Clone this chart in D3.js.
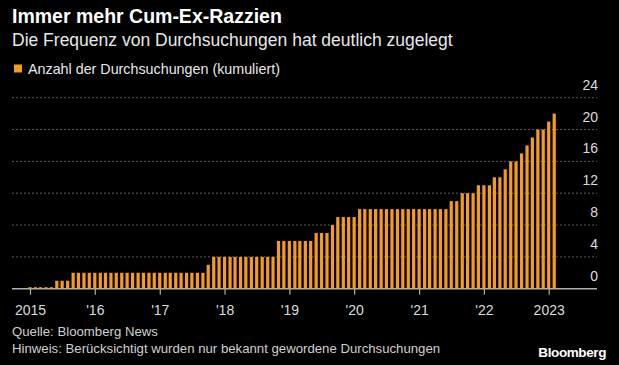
<!DOCTYPE html>
<html>
<head>
<meta charset="utf-8">
<script src="https://cdn.jsdelivr.net/npm/d3@7"></script>
<style>
  html, body { margin: 0; padding: 0; background: #000; }
  svg { display: block; font-family: "Liberation Sans", Arial, sans-serif; }
</style>
</head>
<body>
<svg id="chart" width="619" height="365"></svg>
<script>
// ---- Data ----
const title = "Immer mehr Cum-Ex-Razzien";
const subtitle = "Die Frequenz von Durchsuchungen hat deutlich zugelegt";
const seriesName = "Anzahl der Durchsuchungen (kumuliert)";
const startMonth = "2015-01";
const endMonth = "2023-02";
// cumulative number of searches, monthly Jan 2015 – Feb 2023
const values = [
  0, 0, 0, 0, 0, 1, 1, 1, 2, 2, 2, 2,        // 2015
  2, 2, 2, 2, 2, 2, 2, 2, 2, 2, 2, 2,        // 2016
  2, 2, 2, 2, 2, 2, 2, 2, 2, 3, 4, 4,        // 2017
  4, 4, 4, 4, 4, 4, 4, 4, 4, 4, 6, 6,        // 2018
  6, 6, 6, 6, 6, 7, 7, 7, 8, 9, 9, 9,        // 2019
  9, 10, 10, 10, 10, 10, 10, 10, 10, 10, 10, 10, // 2020
  10, 10, 10, 10, 10, 10, 11, 11, 12, 12, 12, 13, // 2021
  13, 13, 14, 14, 15, 16, 16, 17, 18, 19, 20, 20, // 2022
  21, 22                                      // 2023
];
const yTicks = [0, 4, 8, 12, 16, 20, 24];
const xTickYears = [2015, 2016, 2017, 2018, 2019, 2020, 2021, 2022, 2023];
const xTickLabels = ["2015", "'16", "'17", "'18", "'19", "'20", "'21", "'22", "2023"];
const source = "Quelle: Bloomberg News";
const note = "Hinweis: Berücksichtigt wurden nur bekannt gewordene Durchsuchungen";

// ---- Build ----
const parseMonth = d3.timeParse("%Y-%m");
const months = d3.timeMonth.range(parseMonth(startMonth), d3.timeMonth.offset(parseMonth(endMonth), 1));
const data = months.map((m, i) => ({ date: m, value: values[i] }));

const svg = d3.select("#chart");
svg.append("rect").attr("width", 619).attr("height", 365).attr("fill", "#000");

const x = d3.scaleTime()
  .domain([new Date(2015, 0, 1), new Date(2023, 0, 1)])
  .range([30, 548.7]);
const y = d3.scaleLinear().domain([0, 24]).range([288.7, 97.7]);

const gridLeft = 12, gridRight = 597;

// titles
svg.append("text").attr("x", 12).attr("y", 23)
  .attr("fill", "#fff").attr("font-weight", "bold").attr("font-size", 19.5)
  .text(title);
svg.append("text").attr("x", 12).attr("y", 46)
  .attr("fill", "#e8e8e8").attr("font-size", 17.5)
  .text(subtitle);

// legend
svg.append("rect").attr("x", 14).attr("y", 64.5).attr("width", 8).attr("height", 8)
  .attr("fill", "#f39c21");
svg.append("text").attr("x", 28).attr("y", 73.5)
  .attr("fill", "#e8e8e8").attr("font-size", 14.3)
  .text(seriesName);

// gridlines
const grid = svg.append("g");
grid.selectAll("line").data(yTicks.filter(t => t !== 0)).join("line")
  .attr("x1", gridLeft).attr("x2", gridRight)
  .attr("y1", d => y(d)).attr("y2", d => y(d))
  .attr("stroke", "#5a5a5a").attr("stroke-width", 1)
  .attr("stroke-dasharray", "2,2");

// y labels
svg.append("g").selectAll("text").data(yTicks).join("text")
  .attr("x", 598).attr("y", d => y(d) - 8)
  .attr("text-anchor", "end")
  .attr("fill", "#dcdcdc").attr("font-size", 14)
  .text(d => d);

// x axis baseline and ticks
svg.append("line")
  .attr("x1", gridLeft).attr("x2", gridRight)
  .attr("y1", y(0)).attr("y2", y(0))
  .attr("stroke", "#b0b0b0").attr("stroke-width", 1.5);

const xAxis = d3.axisBottom(x)
  .tickValues(xTickYears.map(yr => new Date(yr, 0, 1)))
  .tickSize(6).tickPadding(10)
  .tickFormat((d, i) => xTickLabels[i]);
const gx = svg.append("g").attr("transform", `translate(0,${y(0)})`).call(xAxis);
gx.select(".domain").remove();
gx.selectAll(".tick line").attr("stroke", "#b0b0b0").attr("stroke-width", 1.2);
gx.selectAll(".tick text").attr("fill", "#dcdcdc").attr("font-size", 14)
  .attr("font-family", "Liberation Sans, Arial, sans-serif");

// bars
const bw = 3.2;
svg.append("g").selectAll("rect").data(data).join("rect")
  .attr("x", d => x(d.date) - bw / 2)
  .attr("width", bw)
  .attr("y", d => d.value === 0 ? y(0) - 1.5 : y(d.value))
  .attr("height", d => d.value === 0 ? 1.5 : y(0) - y(d.value))
  .attr("fill", "#f39c21");

// footer
svg.append("text").attr("x", 12).attr("y", 336)
  .attr("fill", "#d0d0d0").attr("font-size", 13.2).text(source);
svg.append("text").attr("x", 12).attr("y", 353)
  .attr("fill", "#d0d0d0").attr("font-size", 13.2).text(note);
svg.append("text").attr("x", 606).attr("y", 357)
  .attr("text-anchor", "end")
  .attr("fill", "#fff").attr("font-weight", "bold").attr("font-size", 13.5)
  .attr("letter-spacing", -0.4)
  .text("Bloomberg");
</script>
</body>
</html>
